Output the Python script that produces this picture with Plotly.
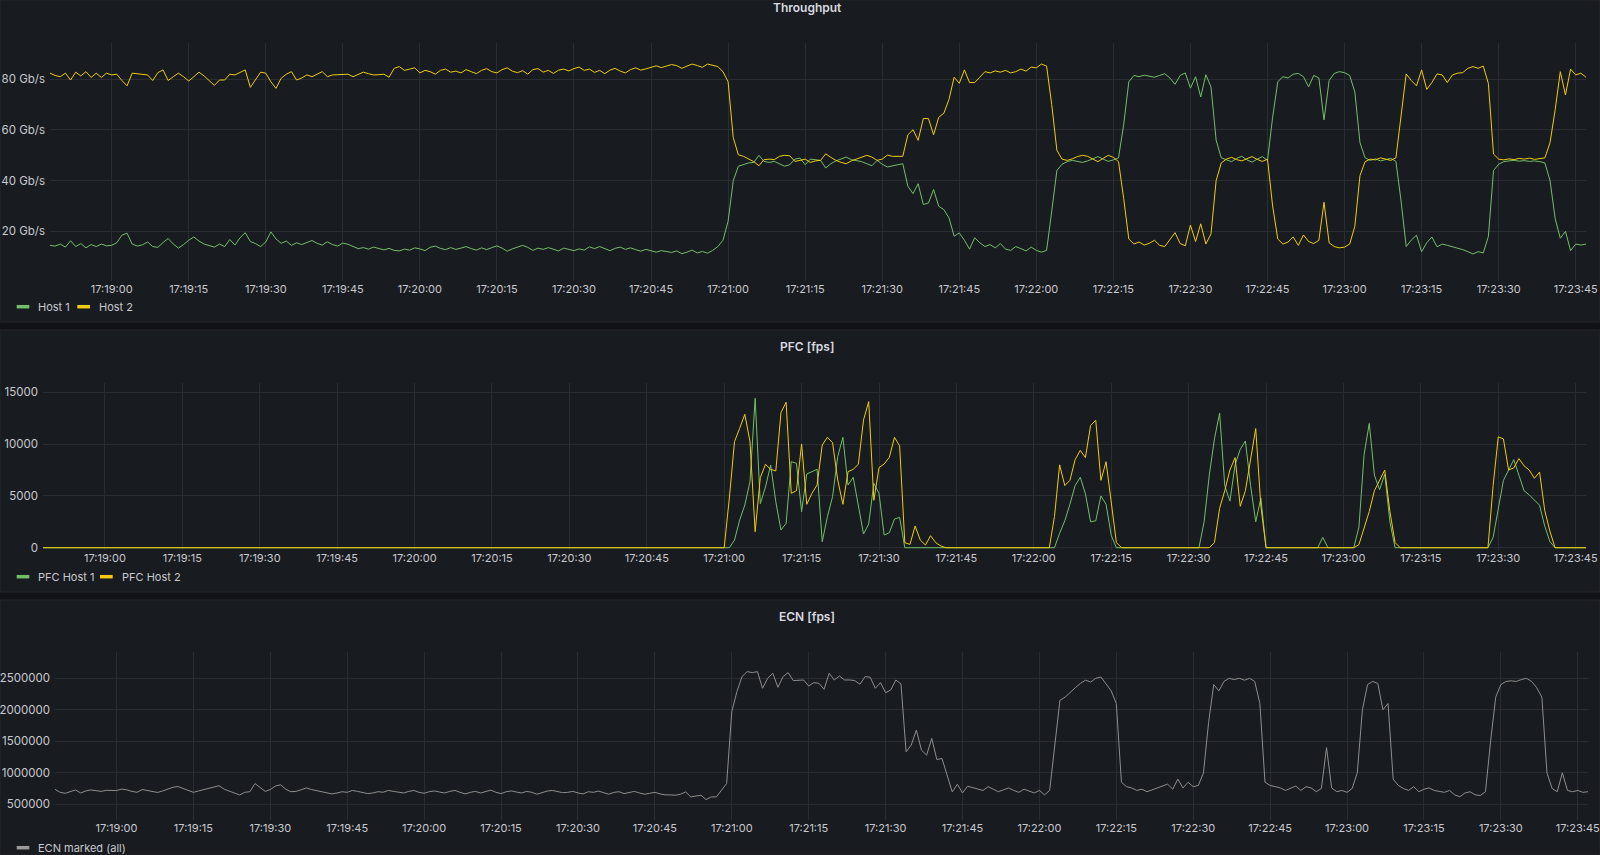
import plotly.graph_objects as go
import pandas as pd

# ---------------- data (1 sample per second, starting 17:18:48) ----------------
START = "2022-05-10 17:18:48"

HOST1 = [
    14.5, 14.2, 15.0, 13.8, 16.3, 14.0, 15.2, 13.5, 14.8, 14.0,
    15.0, 14.3, 14.5, 15.5, 18.5, 19.3, 15.0, 14.2, 14.7, 15.8,
    14.0, 13.7, 15.6, 17.2, 15.0, 13.4, 14.8, 16.5, 17.8, 16.2,
    15.0, 14.3, 13.8, 15.0, 14.0, 16.8, 14.6, 17.5, 19.5, 16.0,
    15.2, 14.0, 15.8, 19.8, 17.0, 15.3, 16.2, 14.5, 15.5, 14.8,
    15.6, 16.4, 15.3, 14.6, 15.9, 14.8, 14.2, 15.4, 14.9, 14.0,
    13.2, 13.6, 13.0, 13.8, 13.4, 12.7, 13.3, 12.5, 12.3, 13.0,
    12.6, 13.5, 13.1, 12.4, 13.7, 14.2, 13.3, 12.8, 13.6, 12.9,
    13.4, 14.0, 13.2, 12.6, 13.5, 12.8, 13.6, 14.3, 13.4, 12.2,
    13.1, 13.8, 14.5, 13.7, 12.5, 13.4, 12.9, 13.6, 12.8, 12.3,
    13.4, 13.0, 12.4, 13.1, 12.6, 13.9, 13.2, 14.0, 13.1, 12.4,
    13.3, 13.8, 12.9, 13.5, 12.8, 12.2, 12.9, 12.3, 11.8, 12.4,
    12.1, 11.7, 12.3, 11.2, 11.8, 12.6, 11.5, 12.1, 11.4, 12.5,
    14.0, 16.5, 24.0, 40.0, 45.7, 46.5, 47.0, 47.2, 50.0, 47.6,
    47.2, 47.6, 46.5, 45.7, 46.3, 48.5, 48.9, 46.3, 48.5, 48.2,
    48.0, 45.0, 46.7, 47.8, 48.5, 49.3, 48.3, 48.0, 47.5, 46.7,
    45.9, 48.0, 46.5, 45.4, 45.9, 46.4, 46.7, 37.8, 34.9, 38.8,
    30.6, 31.2, 36.5, 29.9, 28.6, 25.3, 18.1, 19.4, 16.5, 13.0,
    17.5, 15.5, 14.0, 14.8, 13.5, 15.2, 13.0, 12.5, 14.0, 13.2,
    12.3, 13.8, 12.5, 11.8, 12.5, 28.0, 44.0, 46.5, 47.5, 48.0,
    47.7, 47.2, 47.8, 48.6, 49.5, 48.5, 47.6, 48.2, 49.0, 62.0,
    79.0, 81.5, 81.0, 81.6, 81.2, 80.8, 81.5, 82.2, 80.5, 78.0,
    81.5, 82.5, 76.5, 81.0, 73.0, 81.8, 77.0, 56.0, 49.0, 48.2,
    47.5, 48.8, 49.6, 48.2, 47.3, 48.5, 49.5, 48.0, 65.0, 79.0,
    81.0, 80.5, 82.0, 82.3, 81.0, 77.0, 81.5, 80.5, 64.0, 79.5,
    82.3, 83.0, 82.6, 81.5, 75.0, 55.0, 49.0, 48.0, 48.6, 47.8,
    48.2, 48.8, 47.6, 32.0, 14.0, 16.6, 18.5, 12.0, 15.5, 17.8,
    13.9, 15.0, 14.5, 14.0, 13.6, 12.8, 12.0, 11.1, 12.0, 11.5,
    18.0, 44.0, 46.5, 47.5, 47.8, 48.0, 47.7, 47.9, 47.6, 47.8,
    47.5, 47.0, 40.0, 25.0, 17.3, 20.0, 12.4, 15.0, 14.6, 15.0,
]

HOST2 = [
    82.4, 81.5, 81.0, 82.4, 79.7, 82.8, 81.3, 83.0, 80.7, 82.4,
    80.7, 82.4, 81.7, 82.0, 79.5, 77.4, 82.4, 82.2, 82.0, 81.7,
    79.5, 82.6, 83.7, 79.5, 81.0, 82.4, 81.0, 79.3, 81.0, 82.8,
    81.3, 79.5, 77.6, 79.7, 79.7, 82.0, 81.7, 82.7, 83.7, 76.8,
    80.0, 82.8, 82.4, 79.0, 76.4, 80.4, 82.0, 83.0, 79.7, 80.5,
    81.7, 81.0, 82.0, 83.0, 81.0, 81.7, 81.8, 82.0, 82.0, 81.0,
    82.0, 82.8, 82.2, 81.7, 81.8, 82.0, 80.8, 84.3, 85.0, 83.5,
    84.0, 84.5, 82.5, 83.5, 83.0, 82.0, 83.5, 84.0, 82.8, 83.2,
    82.5, 83.8, 83.0, 82.2, 83.5, 84.2, 83.0, 82.5, 83.8, 84.5,
    83.2, 82.6, 83.4, 82.0, 83.8, 84.2, 82.8, 83.5, 82.3, 83.6,
    84.0, 83.3, 84.2, 84.8, 83.5, 84.0, 82.7, 83.5, 82.2, 83.6,
    84.3, 83.2, 82.5, 83.8, 84.5, 83.6, 84.1, 84.8, 85.3, 84.6,
    85.2, 85.8, 85.4, 84.3, 85.2, 86.0, 85.4, 84.7, 86.0, 85.5,
    85.0, 83.0, 79.0, 57.0, 50.2, 49.6, 48.7, 47.5, 45.9, 48.3,
    48.5, 48.3, 49.6, 50.0, 49.8, 47.6, 48.0, 48.5, 47.2, 47.8,
    48.0, 50.6, 49.2, 48.0, 47.2, 46.7, 47.8, 48.5, 49.4, 50.0,
    49.3, 48.0, 48.5, 50.1, 49.6, 49.6, 49.6, 58.1, 60.1, 55.9,
    64.5, 64.5, 58.1, 65.0, 66.6, 72.1, 80.8, 78.4, 83.7, 78.7,
    78.7, 80.8, 83.0, 82.5, 83.3, 82.8, 83.5, 82.5, 83.0, 84.0,
    83.2, 84.8, 84.5, 86.0, 85.2, 70.0, 52.0, 48.5, 48.0, 48.6,
    49.5, 50.0, 49.6, 48.5, 47.5, 48.8, 50.0, 49.2, 47.5, 33.0,
    17.0, 15.0, 15.8, 14.6, 15.3, 16.5, 14.5, 14.0, 16.8, 19.5,
    15.2, 14.3, 22.5, 16.0, 23.0, 15.0, 19.0, 40.0, 47.0, 48.5,
    49.2, 48.3, 47.8, 48.6, 49.5, 48.4, 47.6, 48.5, 30.0, 17.0,
    15.0, 15.8, 17.8, 14.5, 18.6, 16.0, 15.2, 16.5, 31.5, 15.5,
    14.0, 13.5, 13.8, 15.0, 22.0, 42.0, 47.5, 48.5, 48.2, 49.0,
    48.5, 48.0, 49.0, 66.0, 82.1, 79.5, 77.4, 83.7, 76.0, 78.7,
    82.1, 81.7, 78.7, 81.7, 82.4, 82.6, 84.3, 85.0, 84.3, 85.2,
    78.3, 50.5, 48.5, 48.2, 48.6, 48.3, 48.8, 48.5, 48.9, 48.4,
    48.6, 49.0, 55.0, 68.0, 83.0, 73.8, 84.0, 81.7, 82.4, 80.8,
]

PFC1 = [
    0, 0, 0, 0, 0, 0, 0, 0, 0, 0,
    0, 0, 0, 0, 0, 0, 0, 0, 0, 0,
    0, 0, 0, 0, 0, 0, 0, 0, 0, 0,
    0, 0, 0, 0, 0, 0, 0, 0, 0, 0,
    0, 0, 0, 0, 0, 0, 0, 0, 0, 0,
    0, 0, 0, 0, 0, 0, 0, 0, 0, 0,
    0, 0, 0, 0, 0, 0, 0, 0, 0, 0,
    0, 0, 0, 0, 0, 0, 0, 0, 0, 0,
    0, 0, 0, 0, 0, 0, 0, 0, 0, 0,
    0, 0, 0, 0, 0, 0, 0, 0, 0, 0,
    0, 0, 0, 0, 0, 0, 0, 0, 0, 0,
    0, 0, 0, 0, 0, 0, 0, 0, 0, 0,
    0, 0, 0, 0, 0, 0, 0, 0, 0, 0,
    0, 0, 0, 0, 740, 2672, 4121, 6376, 14426, 4250,
    5860, 7986, 4443, 1707, 2351, 8309, 8148, 3478, 7116, 7341,
    7567, 579, 2994, 4926, 8791, 10658, 6054, 6794, 3960, 1320,
    2286, 6214, 5249, 1223, 1449, 2769, 2930, 0, 0, 0,
    0, 0, 0, 0, 0, 0, 0, 0, 0, 0,
    0, 0, 0, 0, 0, 0, 0, 0, 0, 0,
    0, 0, 0, 0, 0, 0, 0, 1400, 2600, 4200,
    6000, 6800, 5200, 2500, 2600, 5000, 4200, 1200, 0, 0,
    0, 0, 0, 0, 0, 0, 0, 0, 0, 0,
    0, 0, 0, 0, 0, 2500, 7000, 10500, 13000, 6000,
    4500, 8000, 9500, 10300, 6000, 2500, 4800, 0, 0, 0,
    0, 0, 0, 0, 0, 0, 0, 0, 1000, 0,
    0, 0, 0, 0, 0, 2000, 9000, 12000, 7000, 5600,
    7100, 2500, 0, 0, 0, 0, 0, 0, 0, 0,
    0, 0, 0, 0, 0, 0, 0, 0, 0, 0,
    0, 1000, 3600, 6500, 7500, 8500, 7000, 5500, 5100, 4600,
    4100, 2100, 600, 0, 0, 0, 0, 0, 0, 0,
]

PFC2 = [
    0, 0, 0, 0, 0, 0, 0, 0, 0, 0,
    0, 0, 0, 0, 0, 0, 0, 0, 0, 0,
    0, 0, 0, 0, 0, 0, 0, 0, 0, 0,
    0, 0, 0, 0, 0, 0, 0, 0, 0, 0,
    0, 0, 0, 0, 0, 0, 0, 0, 0, 0,
    0, 0, 0, 0, 0, 0, 0, 0, 0, 0,
    0, 0, 0, 0, 0, 0, 0, 0, 0, 0,
    0, 0, 0, 0, 0, 0, 0, 0, 0, 0,
    0, 0, 0, 0, 0, 0, 0, 0, 0, 0,
    0, 0, 0, 0, 0, 0, 0, 0, 0, 0,
    0, 0, 0, 0, 0, 0, 0, 0, 0, 0,
    0, 0, 0, 0, 0, 0, 0, 0, 0, 0,
    0, 0, 0, 0, 0, 0, 0, 0, 0, 0,
    0, 0, 0, 4800, 10240, 11528, 12880, 10240, 1546, 6762,
    8050, 7567, 7406, 13040, 14039, 5249, 5507, 10014, 4186, 5249,
    6054, 9918, 10658, 10143, 6536, 4186, 7342, 7567, 8050, 12333,
    14103, 4572, 7728, 8082, 8727, 10658, 9820, 483, 322, 2100,
    740, 258, 1159, 483, 161, 0, 0, 0, 0, 0,
    0, 0, 0, 0, 0, 0, 0, 0, 0, 0,
    0, 0, 0, 0, 0, 0, 3000, 8000, 6000, 6500,
    8500, 9400, 8700, 11800, 12300, 6500, 8300, 4500, 500, 0,
    0, 0, 0, 0, 0, 0, 0, 0, 0, 0,
    0, 0, 0, 0, 0, 0, 0, 500, 3800, 5500,
    7500, 8700, 4000, 5500, 8500, 11500, 4000, 0, 0, 0,
    0, 0, 0, 0, 0, 0, 0, 0, 0, 0,
    0, 0, 0, 0, 0, 300, 2000, 3500, 5500, 6500,
    7500, 3500, 500, 0, 0, 0, 0, 0, 0, 0,
    0, 0, 0, 0, 0, 0, 0, 0, 0, 0,
    0, 6000, 10700, 10500, 7500, 7700, 8600, 7900, 7500, 6700,
    7300, 3600, 1600, 0, 0, 0, 0, 0, 0, 0,
]

ECN = [
    738000, 690000, 675000, 700000, 728000, 680000, 712000, 728000, 715000, 705000,
    722000, 716000, 718000, 742000, 730000, 705000, 690000, 735000, 720000, 700000,
    688000, 712000, 745000, 770000, 782000, 750000, 720000, 690000, 712000, 735000,
    760000, 780000, 795000, 740000, 705000, 675000, 648000, 690000, 700000, 830000,
    760000, 705000, 735000, 790000, 810000, 740000, 700000, 705000, 730000, 760000,
    735000, 720000, 705000, 690000, 665000, 680000, 700000, 690000, 720000, 705000,
    685000, 670000, 680000, 700000, 692000, 720000, 705000, 690000, 680000, 705000,
    720000, 690000, 675000, 700000, 712000, 695000, 680000, 705000, 720000, 690000,
    665000, 690000, 705000, 680000, 700000, 725000, 690000, 670000, 700000, 712000,
    695000, 680000, 705000, 690000, 660000, 690000, 710000, 720000, 700000, 685000,
    690000, 705000, 680000, 665000, 700000, 690000, 710000, 680000, 660000, 690000,
    700000, 670000, 690000, 705000, 680000, 660000, 675000, 690000, 665000, 650000,
    650000, 644000, 660000, 697000, 618000, 630000, 644000, 575000, 618000, 618000,
    724000, 830000, 1970000, 2288000, 2526000, 2606000, 2590000, 2606000, 2341000, 2500000,
    2580000, 2357000, 2527000, 2590000, 2463000, 2473000, 2473000, 2378000, 2431000, 2420000,
    2325000, 2580000, 2473000, 2537000, 2473000, 2473000, 2463000, 2405000, 2527000, 2516000,
    2341000, 2431000, 2272000, 2314000, 2473000, 2410000, 1334000, 1440000, 1678000, 1360000,
    1280000, 1546000, 1211000, 1227000, 962000, 697000, 819000, 681000, 787000, 765000,
    750000, 720000, 780000, 745000, 700000, 730000, 760000, 720000, 690000, 740000,
    705000, 680000, 720000, 650000, 720000, 1400000, 2150000, 2200000, 2280000, 2350000,
    2420000, 2470000, 2440000, 2500000, 2520000, 2400000, 2300000, 2100000, 850000, 780000,
    760000, 720000, 740000, 700000, 730000, 760000, 780000, 820000, 740000, 900000,
    760000, 850000, 780000, 800000, 1000000, 1800000, 2400000, 2300000, 2450000, 2500000,
    2480000, 2500000, 2470000, 2500000, 2450000, 2100000, 850000, 800000, 780000, 760000,
    720000, 750000, 790000, 720000, 780000, 760000, 700000, 750000, 1400000, 760000,
    700000, 720000, 690000, 750000, 1000000, 2000000, 2400000, 2450000, 2420000, 2000000,
    2100000, 900000, 800000, 750000, 720000, 780000, 700000, 740000, 760000, 720000,
    700000, 690000, 720000, 650000, 620000, 680000, 700000, 650000, 640000, 700000,
    1500000, 2200000, 2400000, 2450000, 2460000, 2450000, 2480000, 2500000, 2450000, 2350000,
    2200000, 1000000, 750000, 700000, 1000000, 720000, 700000, 720000, 690000, 700000,
]

TITLES = ["Throughput", "PFC [fps]", "ECN [fps]"]
TP_TICKS = [20, 40, 60, 80]
PFC_TICKS = [0, 5000, 10000, 15000]
ECN_TICKS = [500000, 1000000, 1500000, 2000000, 2500000]

# ---------------- styling ----------------
W, H = 1600, 855
BG = "#111217"
PANEL = "#181b1f"
GRID = "#2a2d32"
TXT = "#c8c9d0"
GREEN = "#73BF69"
YELLOW = "#F2CC0C"
GRAY = "#8e8e8e"
FONT = "Inter"

times = pd.date_range(START, periods=len(HOST1), freq="1s")
xr = [times[0], times[-1]]


def px_y(p):
    return 1 - p / H


fig = go.Figure()
fig.add_trace(go.Scatter(x=times, y=HOST1, name="Host 1", mode="lines",
                         line=dict(color=GREEN, width=1), xaxis="x", yaxis="y"))
fig.add_trace(go.Scatter(x=times, y=HOST2, name="Host 2", mode="lines",
                         line=dict(color=YELLOW, width=1), xaxis="x", yaxis="y"))
fig.add_trace(go.Scatter(x=times, y=PFC1, name="PFC Host 1", mode="lines",
                         line=dict(color=GREEN, width=1), xaxis="x2", yaxis="y2"))
fig.add_trace(go.Scatter(x=times, y=PFC2, name="PFC Host 2", mode="lines",
                         line=dict(color=YELLOW, width=1), xaxis="x2", yaxis="y2"))
fig.add_trace(go.Scatter(x=times, y=ECN, name="ECN marked (all)", mode="lines",
                         line=dict(color=GRAY, width=1), xaxis="x3", yaxis="y3"))

xcommon = dict(type="date", range=xr, tickformat="%H:%M:%S", dtick=15000,
               tick0="2022-05-10 17:19:00", showgrid=True, gridcolor=GRID,
               gridwidth=1, zeroline=False, showline=False, ticks="",
               automargin=False, ticklabeloverflow="allow",
               tickfont=dict(family=FONT, size=11, color=TXT))
ycommon = dict(showgrid=True, gridcolor=GRID, gridwidth=1, zeroline=False,
               showline=False, ticks="", automargin=False,
               ticklabeloverflow="allow",
               tickfont=dict(family=FONT, size=11.5, color=TXT),
               ticklabelstandoff=4)

fig.update_layout(
    template="none",
    width=W, height=H, autosize=False,
    margin=dict(l=0, r=0, t=0, b=0, pad=0, autoexpand=False),
    paper_bgcolor=BG, plot_bgcolor="rgba(0,0,0,0)",
    showlegend=False,
    xaxis=dict(xcommon, domain=[50 / W, 1586 / W], anchor="y"),
    yaxis=dict(ycommon, domain=[px_y(281), px_y(43)], range=[0.43, 94.3],
               tickvals=TP_TICKS, ticktext=[f"{v} Gb/s" for v in TP_TICKS], anchor="x"),
    xaxis2=dict(xcommon, domain=[43 / W, 1586 / W], anchor="y2"),
    yaxis2=dict(ycommon, domain=[px_y(550), px_y(383)], range=[-220, 15898],
                tickvals=PFC_TICKS, tickformat="d", anchor="x2"),
    xaxis3=dict(xcommon, domain=[55 / W, 1588 / W], anchor="y3"),
    yaxis3=dict(ycommon, domain=[px_y(820), px_y(651.7)], range=[251000, 2922000],
                tickvals=ECN_TICKS, tickformat="d", anchor="x3"),
)

shapes = []
panels = [(0, 322), (330, 592), (600, 855)]
for (a, b) in panels:
    shapes.append(dict(type="rect", xref="paper", yref="paper", x0=0, x1=1,
                       y0=px_y(b), y1=px_y(a), fillcolor=PANEL,
                       line=dict(color="#24272c", width=1), layer="below"))

annotations = []
title_y = [8, 346, 616]
for t, yy in zip(TITLES, title_y):
    annotations.append(dict(text=t, x=807 / W, y=px_y(yy), xref="paper", yref="paper",
                            showarrow=False, xanchor="center", yanchor="middle",
                            font=dict(family=FONT, size=12, color="#d8d9e0", weight=600)))

# legends: (swatch x0, x1, text x, y, color, label)
legend_items = [
    (16.7, 29.3, 36, 306.7, GREEN, "Host 1"),
    (77.3, 90, 96.5, 306.7, YELLOW, "Host 2"),
    (16.7, 29.3, 36, 576.7, GREEN, "PFC Host 1"),
    (100, 112.7, 119.5, 576.7, YELLOW, "PFC Host 2"),
    (16.7, 29.3, 36, 847.7, "#9a9a9a", "ECN marked (all)"),
]
for x0, x1, tx, yy, col, lab in legend_items:
    shapes.append(dict(type="line", xref="paper", yref="paper", x0=x0 / W, x1=x1 / W,
                       y0=px_y(yy), y1=px_y(yy), line=dict(color=col, width=3.5)))
    annotations.append(dict(text=lab, x=tx / W, y=px_y(yy), xref="paper", yref="paper",
                            showarrow=False, xanchor="left", yanchor="middle",
                            font=dict(family=FONT, size=11, color=TXT)))

fig.update_layout(shapes=shapes, annotations=annotations)

PAGE_JS = (
    "document.documentElement.style.margin='0';"
    "document.documentElement.style.padding='0';"
    "document.documentElement.style.overflow='hidden';"
    "document.documentElement.style.background='" + BG + "';"
    "document.body.style.margin='0';"
    "document.body.style.padding='0';"
    "document.body.style.overflow='hidden';"
    "document.body.style.background='" + BG + "';"
)
fig.write_html("out.html", post_script=PAGE_JS)
